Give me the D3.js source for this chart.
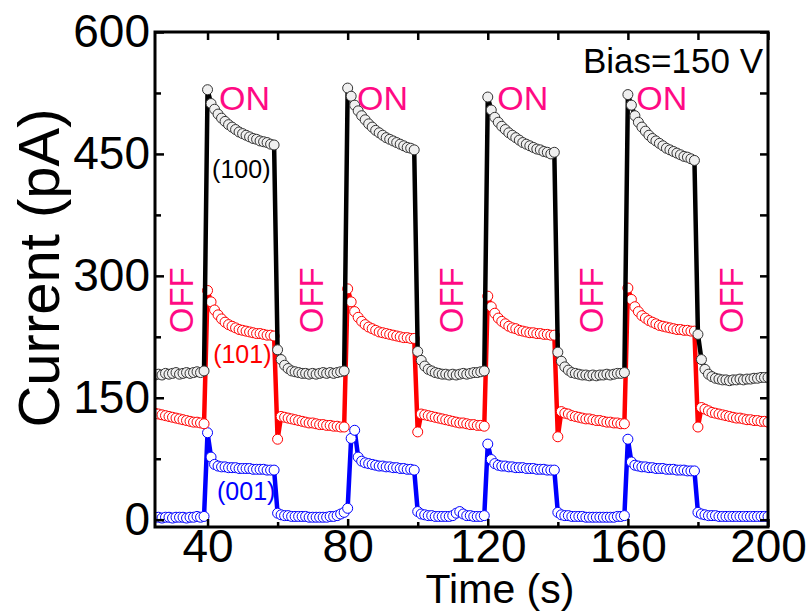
<!DOCTYPE html>
<html lang="en">
<head>
<meta charset="UTF-8">
<script src="https://cdn.jsdelivr.net/npm/d3@7"></script>
<title>Current vs Time</title>
<style>
  body { margin: 0; background: #fff; }
  svg text { font-family: "Liberation Sans", Arial, sans-serif; }
  .tick line { stroke: #000; stroke-width: 2.5; }
</style>
</head>
<body>
<svg id="chart" width="808" height="613"></svg>
<script>
// one sample per second, starting at t = 25 s
var startTime = 25;

// (100) facet, pA
var black100 = [
  178,179,178,180,179,180,181,179,180,181,180,181,182,181,183,
  529,512,505,499,494,490,486,483,480,477,475,473,471,469,468,466,465,464,462,461,
  209,197,190,186,183,182,181,180,180,179,180,179,180,181,180,181,180,181,182,183,
  531,521,510,503,497,492,487,483,479,476,473,470,468,466,464,462,460,458,457,455,
  207,196,189,185,183,181,180,179,179,178,179,178,179,180,179,180,181,181,182,183,
  520,504,495,489,484,480,476,473,470,467,464,462,460,458,456,455,453,452,450,452,
  206,195,188,184,181,180,179,178,178,177,178,177,178,178,179,178,179,180,180,181,
  523,510,497,489,483,478,473,469,466,463,460,457,455,453,451,449,447,446,444,442,
  228,197,185,179,176,174,173,172,172,171,172,172,173,172,173,173,174,174,175,175,175
];
// (101) facet
var red101 = [
  131,130,129,128,127,126,125,124,123,122,121,120,120,119,118,
  282,268,258,252,247,243,240,238,236,234,233,232,231,230,229,229,228,227,227,226,
  99,127,126,125,124,123,122,121,120,119,119,118,117,117,116,116,115,115,114,114,
  284,268,256,249,244,240,237,235,233,231,230,229,228,227,226,225,224,224,223,223,
  108,130,129,128,127,126,125,124,123,122,121,120,119,119,118,117,117,116,116,115,
  275,262,254,248,244,241,238,236,235,233,232,231,230,230,229,229,228,228,227,227,
  102,133,131,130,128,127,126,125,124,124,123,122,122,121,120,120,119,119,118,118,
  285,271,262,256,251,248,245,243,241,239,238,237,236,235,234,234,233,233,232,232,
  114,138,136,134,132,131,130,129,128,127,126,125,125,124,123,123,122,122,121,121,120
];
// (001) facet
var blue001 = [
  3,3,2,3,3,2,3,3,3,2,3,3,4,3,4,
  107,77,68,66,65,65,64,64,64,63,63,63,63,62,62,62,62,61,61,61,
  8,6,5,5,4,4,4,4,4,3,3,3,3,3,3,4,4,5,7,9,
  14,100,110,77,72,70,69,68,67,66,66,65,65,64,64,63,63,62,62,61,
  10,7,6,5,5,4,4,4,4,4,5,8,10,7,5,5,4,4,4,5,
  93,74,69,67,66,66,65,65,64,64,64,63,63,63,62,62,62,61,61,61,
  9,6,5,5,4,4,4,4,3,3,3,3,3,3,3,3,3,4,4,5,
  99,71,67,66,65,65,64,64,63,63,63,62,62,62,61,61,61,60,60,60,
  9,7,6,5,5,5,4,4,4,4,4,4,4,4,4,4,4,4,4,4,4
];

var xTicks = [40, 80, 120, 160, 200];
var xMinor = [60, 100, 140, 180];
var yTicks = [0, 150, 300, 450, 600];
var yMinor = [75, 225, 375, 525];

// light switching: where the ON / OFF words sit (s)
var onTimes = [43.3, 82.7, 122.7, 162.4];
var offTimes = [32.5, 69.5, 109.5, 149.5, 189.5];

var svg = d3.select("#chart");
var x = d3.scaleLinear().domain([25, 200]).range([155, 768]);
var y = d3.scaleLinear().domain([-9, 600]).range([527, 32]);
var pink = "#ff0a84";

svg.append("clipPath").attr("id", "plot")
  .append("rect")
  .attr("x", x(25)).attr("y", y(600))
  .attr("width", x(200) - x(25)).attr("height", y(-9) - y(600));

// blue under red under black
var series = [
  { values: blue001, stroke: "#0000ff", fill: "#fff" },
  { values: red101, stroke: "#ff0000", fill: "#fff" },
  { values: black100, stroke: "#000", fill: "#f0f0f0", ring: "#333" }
];

var line = d3.line()
  .x(function(d, i) { return x(startTime + i); })
  .y(function(d) { return y(d); });

var plot = svg.append("g").attr("clip-path", "url(#plot)");
series.forEach(function(s) {
  var g = plot.append("g");
  g.append("path")
    .datum(s.values)
    .attr("d", line)
    .attr("fill", "none")
    .attr("stroke", s.stroke)
    .attr("stroke-width", 4.5)
    .attr("stroke-linejoin", "round");
  g.selectAll("circle")
    .data(s.values)
    .enter().append("circle")
    .attr("cx", function(d, i) { return x(startTime + i); })
    .attr("cy", function(d) { return y(d); })
    .attr("r", 5)
    .attr("fill", s.fill)
    .attr("stroke", s.ring || s.stroke)
    .attr("stroke-width", 1);
});

// axes, ticks pointing inward
function styleAxis(g) {
  g.select(".domain").remove();
  g.selectAll("text").attr("fill", "#000").style("font-size", "46px");
}
svg.append("g").attr("transform", "translate(0," + y(-9) + ")")
  .call(d3.axisBottom(x).tickValues(xTicks).tickSize(-8).tickPadding(2))
  .call(styleAxis);
svg.append("g").attr("transform", "translate(0," + y(-9) + ")")
  .call(d3.axisBottom(x).tickValues(xMinor).tickSize(-5).tickFormat(""))
  .call(styleAxis);
svg.append("g").attr("transform", "translate(0," + y(600) + ")")
  .call(d3.axisTop(x).tickValues(xTicks.concat(xMinor)).tickSize(-8).tickFormat(""))
  .call(styleAxis);
svg.append("g").attr("transform", "translate(" + x(25) + ",0)")
  .call(d3.axisLeft(y).tickValues(yTicks).tickSize(-9).tickPadding(5))
  .call(styleAxis);
svg.append("g").attr("transform", "translate(" + x(25) + ",0)")
  .call(d3.axisLeft(y).tickValues(yMinor).tickSize(-6).tickFormat(""))
  .call(styleAxis);
svg.append("g").attr("transform", "translate(" + x(200) + ",0)")
  .call(d3.axisRight(y).tickValues(yTicks.concat(yMinor)).tickSize(-8).tickFormat(""))
  .call(styleAxis);

svg.append("rect")
  .attr("x", x(25)).attr("y", y(600))
  .attr("width", x(200) - x(25)).attr("height", y(-9) - y(600))
  .attr("fill", "none").attr("stroke", "#000").attr("stroke-width", 3);

// titles
svg.append("text")
  .attr("x", 500).attr("y", 603)
  .attr("text-anchor", "middle")
  .style("font-size", "41px")
  .text("Time (s)");
svg.append("text")
  .attr("transform", "translate(59,268) rotate(-90)")
  .attr("text-anchor", "middle")
  .style("font-size", "58px")
  .text("Current (pA)");

svg.append("text")
  .attr("x", 763).attr("y", 73)
  .attr("text-anchor", "end")
  .style("font-size", "35px")
  .text("Bias=150 V");

svg.selectAll(".on").data(onTimes).enter().append("text")
  .attr("x", function(d) { return x(d); })
  .attr("y", y(504))
  .attr("fill", pink)
  .style("font-size", "34px")
  .text("ON");
svg.selectAll(".off").data(offTimes).enter().append("text")
  .attr("transform", function(d) { return "translate(" + (x(d) + 12) + "," + y(270) + ") rotate(-90)"; })
  .attr("text-anchor", "middle")
  .attr("fill", pink)
  .style("font-size", "33px")
  .text("OFF");

svg.append("text").attr("x", x(41.3)).attr("y", y(420))
  .attr("fill", "#000").style("font-size", "25px").text("(100)");
svg.append("text").attr("x", x(41.6)).attr("y", y(193))
  .attr("fill", "#ff0000").style("font-size", "25px").text("(101)");
svg.append("text").attr("x", x(42.7)).attr("y", y(24))
  .attr("fill", "#0000ff").style("font-size", "25px").text("(001)");
</script>
</body>
</html>
